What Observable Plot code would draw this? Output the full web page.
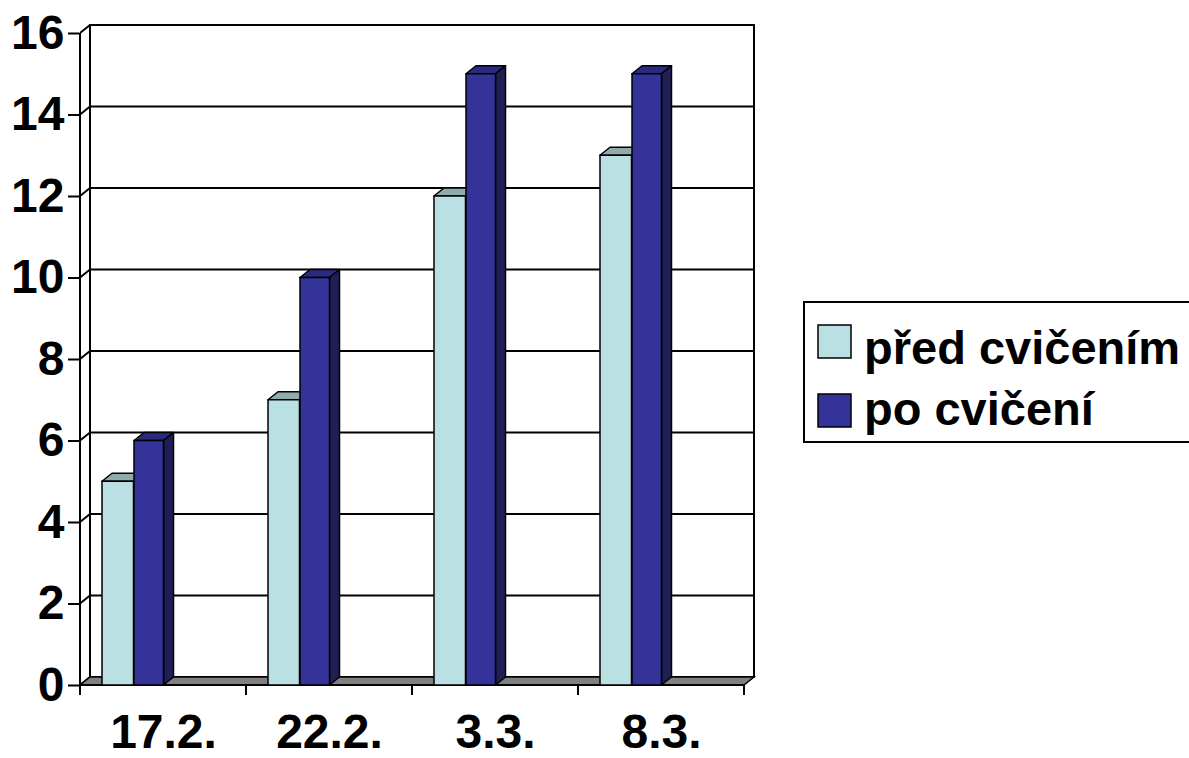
<!DOCTYPE html>
<html>
<head>
<meta charset="utf-8">
<script src="https://cdn.jsdelivr.net/npm/d3@7"></script>
<script src="https://cdn.jsdelivr.net/npm/@observablehq/plot@0.6"></script>
<style>
  html, body { margin: 0; padding: 0; background: white; overflow: hidden; }
  #wrap { position: relative; width: 1189px; height: 758px; }
  #legend { position: absolute; left: 803px; top: 301px; overflow: visible; }
</style>
</head>
<body>
<div id="wrap"></div>
<script>
const categories = ["17.2.", "22.2.", "3.3.", "8.3."];
const predCvicenim = [5, 7, 12, 13];
const poCviceni = [6, 10, 15, 15];
const seriesNames = ["před cvičením", "po cvičení"];
const yTicks = [0, 2, 4, 6, 8, 10, 12, 14, 16];

const colors = {
  light: "#BBE0E3", lightTop: "#8FABAD", lightSide: "#6F8789",
  dark: "#333399", darkTop: "#2A2A80", darkSide: "#1F1F55",
  floor: "#808080"
};
const FONT = "'Liberation Sans', Arial, sans-serif";
const DX = 10, DY = -8;           // 3D depth offset
const BW = (1189 - 79 - 444) / categories.length;
const lightInset = {insetLeft: 22, insetRight: BW - 54};
const darkInset = {insetLeft: 54, insetRight: BW - 84};

const lightData = categories.map((c, i) => ({category: c, value: predCvicenim[i]}));
const darkData = categories.map((c, i) => ({category: c, value: poCviceni[i]}));

function bandwidthOf(x) {
  return x.bandwidth ? x.bandwidth() : (x(categories[1]) - x(categories[0]));
}

function walls(index, scales) {
  const {x, y} = scales;
  const bw = bandwidthOf(x);
  const x0 = x(categories[0]);
  const x1 = x(categories[categories.length - 1]) + bw;
  const y0 = y(0), yTop = y(d3.max(yTicks));
  const g = d3.create("svg:g").attr("stroke", "black").attr("stroke-width", 2).attr("fill", "none");
  g.append("rect").attr("x", x0 + DX).attr("y", yTop + DY)
    .attr("width", x1 - x0).attr("height", y0 - yTop).attr("fill", "white");
  for (const v of yTicks) {
    if (v === 0) continue;
    g.append("line").attr("x1", x0 + DX).attr("x2", x1 + DX)
      .attr("y1", y(v) + DY).attr("y2", y(v) + DY);
  }
  for (const v of yTicks) {
    g.append("line").attr("x1", x0).attr("y1", y(v)).attr("x2", x0 + DX).attr("y2", y(v) + DY);
  }
  g.append("line").attr("x1", x0 + DX).attr("x2", x0 + DX).attr("y1", yTop + DY).attr("y2", y0 + DY);
  g.append("polygon")
    .attr("points", [[x0, y0], [x1, y0], [x1 + DX, y0 + DY], [x0 + DX, y0 + DY]].map(p => p.join(",")).join(" "))
    .attr("fill", colors.floor).attr("stroke-width", 1.5);
  g.append("line").attr("x1", x0).attr("x2", x0).attr("y1", yTop).attr("y2", y0 + 10);
  g.append("line").attr("x1", x0).attr("x2", x1).attr("y1", y0).attr("y2", y0);
  for (let i = 0; i <= categories.length; i++) {
    const xe = x0 + i * bw;
    g.append("line").attr("x1", xe).attr("x2", xe).attr("y1", y0).attr("y2", y0 + 10);
  }
  return g.node();
}

function faces(values, inset, topFill, sideFill) {
  return (index, scales) => {
    const {x, y} = scales;
    const bw = bandwidthOf(x);
    const g = d3.create("svg:g").attr("stroke", "black").attr("stroke-width", 1.5).attr("stroke-linejoin", "round");
    categories.forEach((c, i) => {
      const xl = x(c) + inset.insetLeft, xr = x(c) + bw - inset.insetRight;
      const yt = y(values[i]), yb = y(0);
      g.append("polygon")
        .attr("points", [[xl, yt], [xr, yt], [xr + DX, yt + DY], [xl + DX, yt + DY]].map(p => p.join(",")).join(" "))
        .attr("fill", topFill);
      g.append("polygon")
        .attr("points", [[xr, yt], [xr + DX, yt + DY], [xr + DX, yb + DY], [xr, yb]].map(p => p.join(",")).join(" "))
        .attr("fill", sideFill);
    });
    return g.node();
  };
}

const chart = Plot.plot({
  width: 1189,
  height: 758,
  marginLeft: 79,
  marginRight: 444,
  marginTop: 33,
  marginBottom: 73,
  style: {fontFamily: FONT, fontSize: "48px", fontWeight: "bold", color: "black", background: "white"},
  x: {type: "band", domain: categories, padding: 0, tickSize: 0, tickPadding: 28, label: null},
  y: {domain: [0, 16], ticks: yTicks, tickSize: 11, tickPadding: 4, label: null, tickFormat: d => String(d)},
  marks: [
    walls,
    faces(predCvicenim, lightInset, colors.lightTop, colors.lightSide),
    Plot.barY(lightData, {x: "category", y: "value", fill: colors.light, stroke: "black", strokeWidth: 1.5, ...lightInset}),
    faces(poCviceni, darkInset, colors.darkTop, colors.darkSide),
    Plot.barY(darkData, {x: "category", y: "value", fill: colors.dark, stroke: "black", strokeWidth: 1.5, ...darkInset})
  ]
});
chart.querySelectorAll("[aria-label='y-axis tick'], [aria-label='x-axis tick']").forEach(el => el.setAttribute("stroke-width", 2));
document.getElementById("wrap").appendChild(chart);

const legendColors = [colors.light, colors.dark];
const leg = d3.select("#wrap").append("svg").attr("id", "legend")
  .attr("width", 386).attr("height", 143)
  .style("font-family", FONT).style("font-weight", "bold").style("font-size", "47px");
leg.append("rect").attr("x", 1).attr("y", 1).attr("width", 440).attr("height", 140)
  .attr("fill", "white").attr("stroke", "black").attr("stroke-width", 2);
seriesNames.forEach((name, i) => {
  leg.append("rect").attr("x", 15).attr("y", 24 + i * 69).attr("width", 33).attr("height", 33)
    .attr("fill", legendColors[i]).attr("stroke", "black").attr("stroke-width", 1.5);
  leg.append("text").attr("x", 61).attr("y", 63 + i * 61).attr("fill", "black").text(name);
});
</script>
</body>
</html>
